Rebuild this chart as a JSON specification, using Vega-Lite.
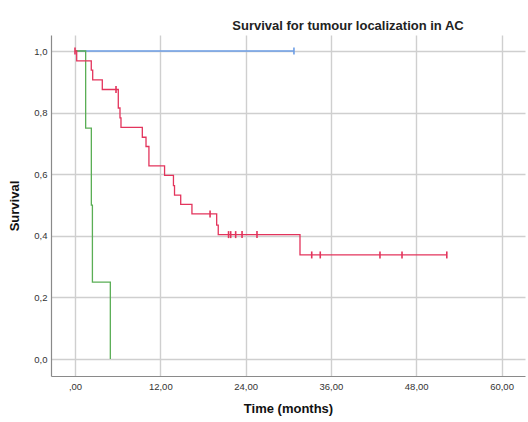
{
  "$schema": "https://vega.github.io/schema/vega-lite/v6.json",
  "width": 474,
  "height": 341,
  "autosize": {"type": "none"},
  "padding": {"left": 51, "top": 35, "right": 3, "bottom": 46},
  "background": "white",
  "title": {
    "text": "Survival for tumour localization in AC",
    "font": "Liberation Sans",
    "fontSize": 13,
    "fontWeight": "bold",
    "color": "#222222",
    "anchor": "middle",
    "dx": 60,
    "offset": 2
  },
  "config": {
    "view": {"stroke": null},
    "axis": {
      "labelFont": "Liberation Sans",
      "labelFontSize": 9.5,
      "labelColor": "#333333",
      "titleFont": "Liberation Sans",
      "titleFontSize": 13,
      "titleFontWeight": "bold",
      "titleColor": "#111111",
      "gridColor": "#cfcfcf",
      "gridWidth": 1.4,
      "domainColor": "#8a8a8a",
      "domainWidth": 1.2,
      "ticks": false
    }
  },
  "datasets": {
    "curves": [
      {"group": "Group 1", "t": 0, "s": 1.0},
      {"group": "Group 1", "t": 30.8, "s": 1.0},
      {"group": "Group 2", "t": 0, "s": 1.0},
      {"group": "Group 2", "t": 1.5, "s": 0.75},
      {"group": "Group 2", "t": 2.3, "s": 0.5},
      {"group": "Group 2", "t": 2.45, "s": 0.25},
      {"group": "Group 2", "t": 4.97, "s": 0.0},
      {"group": "Group 3", "t": 0, "s": 1.0},
      {"group": "Group 3", "t": 0.24, "s": 0.968},
      {"group": "Group 3", "t": 2.29, "s": 0.938},
      {"group": "Group 3", "t": 2.49, "s": 0.906},
      {"group": "Group 3", "t": 3.84, "s": 0.875},
      {"group": "Group 3", "t": 6.09, "s": 0.815},
      {"group": "Group 3", "t": 6.33, "s": 0.783},
      {"group": "Group 3", "t": 6.47, "s": 0.752},
      {"group": "Group 3", "t": 9.47, "s": 0.72},
      {"group": "Group 3", "t": 9.99, "s": 0.69},
      {"group": "Group 3", "t": 10.4, "s": 0.627},
      {"group": "Group 3", "t": 12.6, "s": 0.596},
      {"group": "Group 3", "t": 13.85, "s": 0.563},
      {"group": "Group 3", "t": 14.0, "s": 0.532},
      {"group": "Group 3", "t": 14.87, "s": 0.502},
      {"group": "Group 3", "t": 16.45, "s": 0.471},
      {"group": "Group 3", "t": 19.93, "s": 0.435},
      {"group": "Group 3", "t": 20.15, "s": 0.404},
      {"group": "Group 3", "t": 31.65, "s": 0.338},
      {"group": "Group 3", "t": 52.3, "s": 0.338}
    ],
    "censored": [
      {"group": "Group 1", "t": 30.8, "s": 1.0},
      {"group": "Group 3", "t": 0, "s": 1.0},
      {"group": "Group 3", "t": 5.77, "s": 0.875},
      {"group": "Group 3", "t": 19.0, "s": 0.471},
      {"group": "Group 3", "t": 21.6, "s": 0.404},
      {"group": "Group 3", "t": 21.9, "s": 0.404},
      {"group": "Group 3", "t": 22.6, "s": 0.404},
      {"group": "Group 3", "t": 23.5, "s": 0.404},
      {"group": "Group 3", "t": 25.6, "s": 0.404},
      {"group": "Group 3", "t": 33.3, "s": 0.338},
      {"group": "Group 3", "t": 34.5, "s": 0.338},
      {"group": "Group 3", "t": 42.9, "s": 0.338},
      {"group": "Group 3", "t": 46.0, "s": 0.338},
      {"group": "Group 3", "t": 52.3, "s": 0.338}
    ]
  },
  "encoding": {
    "x": {
      "field": "t",
      "type": "quantitative",
      "scale": {"domain": [-3.375, 63.3], "nice": false, "zero": false},
      "axis": {
        "title": "Time (months)",
        "values": [0, 12, 24, 36, 48, 60],
        "labelExpr": "datum.value == 0 ? ',00' : replace(format(datum.value, '.2f'), '.', ',')",
        "labelPadding": 5,
        "titlePadding": 12
      }
    },
    "y": {
      "field": "s",
      "type": "quantitative",
      "scale": {"domain": [-0.055, 1.052], "nice": false, "zero": false},
      "axis": {
        "title": "Survival",
        "values": [0, 0.2, 0.4, 0.6, 0.8, 1.0],
        "labelExpr": "replace(format(datum.value, '.1f'), '.', ',')",
        "labelPadding": 4,
        "titlePadding": 12
      }
    },
    "color": {
      "field": "group",
      "type": "nominal",
      "legend": null,
      "scale": {
        "domain": ["Group 1", "Group 2", "Group 3"],
        "range": ["#6d9ee6", "#5aae55", "#e3345c"]
      }
    }
  },
  "layer": [
    {
      "data": {"name": "curves"},
      "mark": {"type": "line", "interpolate": "step-after", "strokeWidth": 1.3},
      "encoding": {"detail": {"field": "group"}}
    },
    {
      "data": {"name": "censored"},
      "mark": {"type": "point", "shape": "stroke", "angle": 90, "size": 49, "strokeWidth": 1.6, "filled": false, "opacity": 1}
    },
    {
      "data": {"values": [{"label": "P = 0.000"}]},
      "mark": {
        "type": "text",
        "font": "Liberation Sans",
        "fontSize": 12,
        "fontWeight": "bold",
        "fontStyle": "italic",
        "color": "#111111",
        "align": "center",
        "baseline": "middle"
      },
      "encoding": {
        "x": {"datum": 54.6, "type": "quantitative"},
        "y": {"datum": -0.182, "type": "quantitative"},
        "text": {"field": "label"},
        "color": {"value": "#111111"}
      }
    }
  ]
}
